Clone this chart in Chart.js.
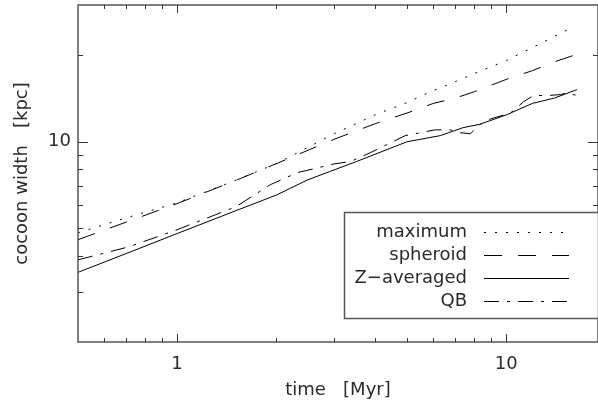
<!DOCTYPE html>
<html>
<head>
<meta charset="utf-8">
<script src="https://cdn.jsdelivr.net/npm/chart.js@4/dist/chart.umd.min.js"></script>
<style>
  html, body { margin: 0; padding: 0; background: #fff; }
  #wrap { width: 598px; height: 407px; }
</style>
</head>
<body>
<div id="wrap"><canvas id="c" width="598" height="407"></canvas></div>
<script>
// values (time in Myr, width in kpc)
const maxT = [0.5, 0.7, 1, 1.5, 2, 3, 4, 5, 6, 7, 8, 10, 12, 14, 16];
const maxW = [4.81, 5.42, 6.12, 7.32, 8.38, 10.66, 12.42, 13.7, 15.07, 16.2, 17.3, 19.2, 21.3, 23.3, 25.2];

const sphT = [0.5, 0.7, 1, 1.5, 2, 3, 4, 5, 6, 7, 8, 10, 12, 14, 16];
const sphW = [4.55, 5.24, 6.08, 7.31, 8.38, 10.2, 11.56, 12.6, 13.6, 14.2, 14.95, 16.5, 17.7, 19.0, 20.0];

const zavT = [0.5, 0.7, 1, 1.5, 2, 2.5, 3.5, 5, 6.3, 7.4, 8.3, 10, 12, 14, 16.4];
const zavW = [3.50, 4.07, 4.78, 5.73, 6.51, 7.37, 8.52, 10.0, 10.5, 11.2, 11.5, 12.4, 13.6, 14.2, 15.2];

const qbT = [0.5, 0.715, 1.0, 1.51, 1.92, 2.32, 3.02, 3.36, 3.86, 4.93, 6.08, 6.76, 7.25, 7.78, 8.34, 8.94, 10.3, 11.3, 12.1, 13.4, 14.6, 15.3, 16.4];
const qbW = [3.87, 4.30, 4.93, 5.93, 7.08, 7.80, 8.38, 8.52, 9.15, 10.5, 11.0, 11.0, 10.75, 10.66, 11.5, 12.0, 12.6, 13.8, 14.5, 14.5, 14.6, 14.8, 14.5];

const seriesLabels = ["maximum", "spheroid", "Z\u2212averaged", "QB"];

const xLabelTicks = [1, 10];
const xMinorTicks = [0.6, 0.7, 0.8, 0.9, 2, 3, 4, 5, 6, 7, 8, 9];
const yLabelTicks = [10];
const yMinorTicks = [3, 4, 5, 6, 7, 8, 9, 20];

const FONT = { family: "'DejaVu Sans', sans-serif", size: 18 };
const INK = "#2a2a2a";
const AXIS = "#555";

function pts(xs, ys){ return xs.map((x, i) => ({ x, y: ys[i] })); }

function mkSet(label, xs, ys, dash){
  return {
    label, data: pts(xs, ys),
    showLine: true, borderColor: "#000", borderWidth: 1,
    borderDash: dash, pointRadius: 0, tension: 0, fill: false,
  };
}

// frame, inside ticks and the boxed legend
const decor = {
  id: "decor",
  afterDraw(chart){
    const { ctx, chartArea: a, scales } = chart;
    const xs = scales.x, ys = scales.y;
    ctx.save();
    ctx.strokeStyle = AXIS;
    ctx.lineWidth = 1.5;
    ctx.strokeRect(a.left, a.top, a.right - a.left, a.bottom - a.top);

    ctx.lineWidth = 1;
    ctx.strokeStyle = "#333";
    const tick = (x1, y1, x2, y2) => { ctx.beginPath(); ctx.moveTo(x1, y1); ctx.lineTo(x2, y2); ctx.stroke(); };
    for (const v of xLabelTicks){
      const px = Math.round(xs.getPixelForValue(v)) + 0.5;
      tick(px, a.bottom, px, a.bottom - 8);
      tick(px, a.top, px, a.top + 8);
    }
    for (const v of xMinorTicks){
      const px = Math.round(xs.getPixelForValue(v)) + 0.5;
      tick(px, a.bottom, px, a.bottom - 4);
      tick(px, a.top, px, a.top + 4);
    }
    for (const v of yLabelTicks){
      const py = Math.round(ys.getPixelForValue(v)) + 0.5;
      tick(a.left, py, a.left + 10, py);
      tick(a.right, py, a.right - 10, py);
    }
    for (const v of yMinorTicks){
      const py = Math.round(ys.getPixelForValue(v)) + 0.5;
      tick(a.left, py, a.left + 5, py);
      tick(a.right, py, a.right - 5, py);
    }

    // legend box
    const bx = 344, by = 212, bw = a.right - bx, bh = 106;
    ctx.fillStyle = "#fff";
    ctx.fillRect(bx, by, bw, bh);
    ctx.strokeStyle = AXIS;
    ctx.lineWidth = 1.5;
    ctx.strokeRect(bx + 0.5, by + 0.5, bw, bh);

    ctx.font = `${FONT.size}px ${FONT.family}`;
    ctx.textAlign = "right";
    ctx.textBaseline = "middle";
    ctx.fillStyle = INK;
    chart.data.datasets.forEach((ds, i) => {
      const ry = 232 + i * 23;
      ctx.fillText(ds.label, 467, ry);
      ctx.strokeStyle = "#000";
      ctx.lineWidth = 1;
      ctx.setLineDash(ds.borderDash || []);
      tick(484, ry + 0.5, 569, ry + 0.5);
      ctx.setLineDash([]);
    });
    ctx.restore();
  }
};

new Chart(document.getElementById("c"), {
  type: "scatter",
  data: {
    datasets: [
      mkSet(seriesLabels[0], maxT, maxW, [2, 9]),
      mkSet(seriesLabels[1], sphT, sphW, [18, 16]),
      mkSet(seriesLabels[2], zavT, zavW, []),
      mkSet(seriesLabels[3], qbT, qbW, [15, 8, 3, 8]),
    ]
  },
  options: {
    responsive: false,
    animation: false,
    layout: { padding: { top: 5, right: 0, bottom: 0, left: 0 } },
    plugins: { legend: { display: false }, tooltip: { enabled: false } },
    scales: {
      x: {
        type: "logarithmic", min: 0.5, max: 19,
        afterBuildTicks: (s) => { s.ticks = xLabelTicks.map(v => ({ value: v })); },
        afterFit: (s) => { s.height = 65; s.paddingLeft = 0; s.paddingRight = 0; },
        grid: { display: false, drawTicks: false },
        border: { display: false },
        ticks: { padding: 12, color: INK, font: FONT, maxRotation: 0, autoSkip: false, callback: (v) => String(v) },
        title: { display: true, text: "time   [Myr]", color: INK, font: FONT, padding: { top: 0, bottom: 6 } },
      },
      y: {
        type: "logarithmic", min: 2, max: 30,
        afterBuildTicks: (s) => { s.ticks = yLabelTicks.map(v => ({ value: v })); },
        afterFit: (s) => { s.width = 78; s.paddingTop = 0; s.paddingBottom = 0; },
        grid: { display: false, drawTicks: false },
        border: { display: false },
        ticks: { padding: 7, color: INK, font: FONT, autoSkip: false, callback: (v) => String(v) },
        title: { display: true, text: "cocoon width   [kpc]", color: INK, font: FONT, padding: { top: 12, bottom: 0 } },
      }
    }
  },
  plugins: [decor]
});
</script>
</body>
</html>
